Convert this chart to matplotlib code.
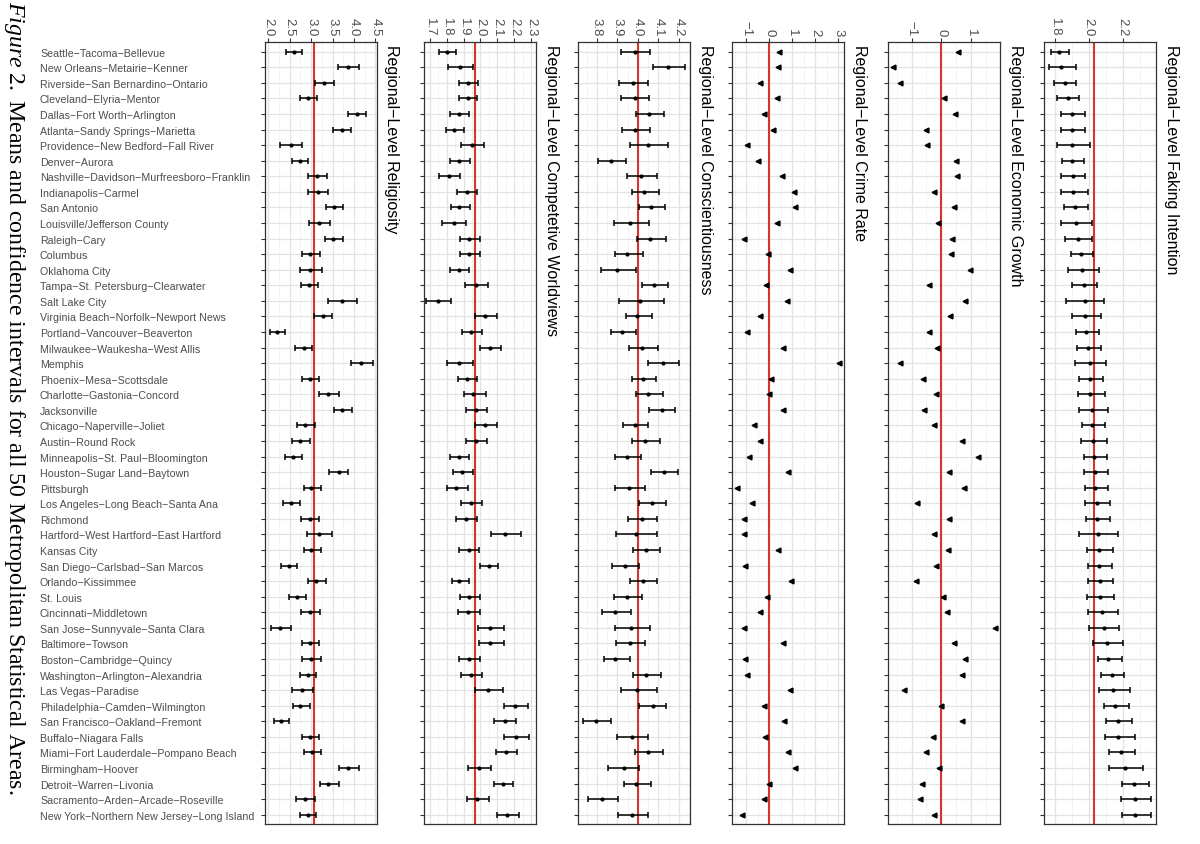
import matplotlib
matplotlib.use("Agg")
import matplotlib.pyplot as plt
from matplotlib.ticker import AutoMinorLocator

plt.rcParams['font.family'] = 'Liberation Sans'
plt.rcParams['mathtext.fontset'] = 'custom'
plt.rcParams['mathtext.it'] = 'Liberation Serif:italic'
plt.rcParams['mathtext.rm'] = 'Liberation Serif'

cities = [
    "Seattle−Tacoma−Bellevue", "New Orleans−Metairie−Kenner", "Riverside−San Bernardino−Ontario",
    "Cleveland−Elyria−Mentor", "Dallas−Fort Worth−Arlington", "Atlanta−Sandy Springs−Marietta",
    "Providence−New Bedford−Fall River", "Denver−Aurora", "Nashville−Davidson−Murfreesboro−Franklin",
    "Indianapolis−Carmel", "San Antonio", "Louisville/Jefferson County", "Raleigh−Cary", "Columbus",
    "Oklahoma City", "Tampa−St. Petersburg−Clearwater", "Salt Lake City",
    "Virginia Beach−Norfolk−Newport News", "Portland−Vancouver−Beaverton",
    "Milwaukee−Waukesha−West Allis", "Memphis", "Phoenix−Mesa−Scottsdale",
    "Charlotte−Gastonia−Concord", "Jacksonville", "Chicago−Naperville−Joliet", "Austin−Round Rock",
    "Minneapolis−St. Paul−Bloomington", "Houston−Sugar Land−Baytown", "Pittsburgh",
    "Los Angeles−Long Beach−Santa Ana", "Richmond", "Hartford−West Hartford−East Hartford",
    "Kansas City", "San Diego−Carlsbad−San Marcos", "Orlando−Kissimmee", "St. Louis",
    "Cincinnati−Middletown", "San Jose−Sunnyvale−Santa Clara", "Baltimore−Towson",
    "Boston−Cambridge−Quincy", "Washington−Arlington−Alexandria", "Las Vegas−Paradise",
    "Philadelphia−Camden−Wilmington", "San Francisco−Oakland−Fremont", "Buffalo−Niagara Falls",
    "Miami−Fort Lauderdale−Pompano Beach", "Birmingham−Hoover", "Detroit−Warren−Livonia",
    "Sacramento−Arden−Arcade−Roseville", "New York−Northern New Jersey−Long Island"]

# religiosity
rel_lo = [2.42, 3.62, 3.10, 2.75, 3.87, 3.52, 2.28, 2.56, 2.93, 2.93, 3.34, 2.95, 3.32, 2.79, 2.73, 2.77, 3.40,
          3.06, 2.04, 2.63, 3.93, 2.79, 3.19, 3.53, 2.68, 2.56, 2.39, 3.42, 2.83, 2.35, 2.77, 2.90, 2.83, 2.30,
          2.93, 2.48, 2.77, 2.06, 2.79, 2.79, 2.75, 2.56, 2.57, 2.14, 2.79, 2.83, 3.66, 3.20, 2.64, 2.75]
rel_mean = [2.59, 3.86, 3.31, 2.93, 4.07, 3.71, 2.53, 2.73, 3.14, 3.15, 3.54, 3.19, 3.52, 2.98, 2.98, 2.94, 3.71,
            3.27, 2.20, 2.83, 4.17, 2.97, 3.40, 3.73, 2.85, 2.75, 2.57, 3.64, 2.99, 2.53, 2.97, 3.18, 2.99, 2.47,
            3.11, 2.67, 2.97, 2.28, 2.97, 2.99, 2.93, 2.79, 2.75, 2.30, 2.97, 3.01, 3.86, 3.40, 2.85, 2.93]
rel_hi = [2.79, 4.13, 3.54, 3.14, 4.29, 3.93, 2.79, 2.93, 3.38, 3.40, 3.75, 3.45, 3.75, 3.20, 3.26, 3.15, 4.07,
          3.48, 2.39, 3.03, 4.45, 3.18, 3.64, 3.95, 3.08, 2.98, 2.79, 3.86, 3.22, 2.75, 3.19, 3.48, 3.22, 2.68,
          3.34, 2.89, 3.20, 2.53, 3.19, 3.22, 3.12, 3.05, 2.97, 2.48, 3.19, 3.22, 4.13, 3.65, 3.10, 3.12]

# competitive worldviews
cw_lo = [1.754, 1.811, 1.872, 1.872, 1.817, 1.794, 1.886, 1.821, 1.754, 1.863, 1.823, 1.772, 1.880, 1.882,
         1.817, 1.906, 1.680, 1.969, 1.890, 1.998, 1.802, 1.867, 1.900, 1.916, 1.969, 1.912, 1.817, 1.837,
         1.802, 1.886, 1.853, 2.063, 1.876, 1.995, 1.831, 1.880, 1.867, 1.985, 1.991, 1.876, 1.886, 1.969,
         2.138, 2.083, 2.142, 2.093, 1.926, 2.079, 1.922, 2.097]
cw_mean = [1.804, 1.880, 1.926, 1.926, 1.871, 1.841, 1.951, 1.876, 1.813, 1.920, 1.876, 1.841, 1.935, 1.935,
           1.871, 1.971, 1.748, 2.030, 1.945, 2.058, 1.876, 1.920, 1.959, 1.975, 2.030, 1.971, 1.871, 1.892,
           1.857, 1.945, 1.912, 2.148, 1.930, 2.048, 1.876, 1.935, 1.926, 2.058, 2.059, 1.930, 1.945, 2.044,
           2.207, 2.146, 2.211, 2.152, 1.991, 2.132, 1.981, 2.158]
cw_hi = [1.857, 1.955, 1.985, 1.981, 1.930, 1.900, 2.024, 1.941, 1.882, 1.981, 1.939, 1.916, 2.000, 1.995,
         1.930, 2.046, 1.827, 2.097, 2.010, 2.122, 1.955, 1.981, 2.034, 2.038, 2.097, 2.038, 1.930, 1.959,
         1.926, 2.010, 1.979, 2.241, 1.991, 2.107, 1.932, 2.000, 1.995, 2.138, 2.142, 1.995, 2.010, 2.132,
         2.280, 2.211, 2.286, 2.217, 2.063, 2.191, 2.048, 2.227]

# conscientiousness
con_lo = [3.919, 4.073, 3.906, 3.916, 3.989, 3.924, 3.960, 3.806, 3.948, 3.971, 4.005, 3.882, 3.995, 3.887,
          3.819, 4.021, 3.906, 3.944, 3.868, 3.956, 4.048, 3.971, 3.992, 4.056, 3.927, 3.971, 3.887, 4.065,
          3.887, 4.008, 3.952, 3.895, 3.976, 3.876, 3.960, 3.884, 3.826, 3.887, 3.892, 3.835, 3.979, 3.916,
          4.008, 3.734, 3.898, 3.987, 3.855, 3.932, 3.755, 3.903]
con_mean = [3.987, 4.148, 3.979, 3.984, 4.053, 3.987, 4.052, 3.871, 4.016, 4.032, 4.065, 3.963, 4.060, 3.948,
            3.900, 4.077, 4.013, 3.997, 3.924, 4.021, 4.121, 4.024, 4.052, 4.116, 3.984, 4.035, 3.947, 4.126,
            3.955, 4.069, 4.019, 3.989, 4.040, 3.939, 4.024, 3.947, 3.890, 3.968, 3.963, 3.890, 4.040, 3.995,
            4.073, 3.798, 3.973, 4.052, 3.931, 3.992, 3.823, 3.973]
con_hi = [4.061, 4.231, 4.052, 4.055, 4.126, 4.060, 4.148, 3.944, 4.092, 4.105, 4.134, 4.053, 4.137, 4.024,
          3.992, 4.148, 4.129, 4.069, 3.989, 4.097, 4.202, 4.089, 4.121, 4.182, 4.052, 4.110, 4.016, 4.197,
          4.037, 4.137, 4.092, 4.092, 4.110, 4.008, 4.094, 4.021, 3.968, 4.060, 4.037, 3.960, 4.113, 4.092,
          4.140, 3.871, 4.052, 4.121, 4.008, 4.065, 3.903, 4.052]

# crime rate and economic growth (standardised, no interval)
crime = [0.43, 0.40, -0.40, 0.32, -0.24, 0.17, -0.94, -0.47, 0.55, 1.08, 1.11, 0.33, -1.08, -0.07, 0.89, -0.12,
         0.79, -0.40, -0.98, 0.62, 3.02, 0.07, 0.01, 0.59, -0.65, -0.39, -0.86, 0.81, -1.40, -0.75, -1.11, -1.11,
         0.40, -1.05, 0.96, -0.10, -0.39, -1.11, 0.59, -1.04, -0.94, 0.88, -0.22, 0.65, -0.20, 0.82, 1.11, 0.01,
         -0.24, -1.19]
growth = [0.57, -1.63, -1.38, 0.09, 0.47, -0.53, -0.47, 0.51, 0.53, -0.24, 0.44, -0.11, 0.37, 0.33, 0.96, -0.42,
          0.82, 0.30, -0.42, -0.15, -1.38, -0.62, -0.18, -0.58, -0.26, 0.71, 1.25, 0.26, 0.76, -0.83, 0.25, -0.26,
          0.22, -0.19, -0.85, 0.06, 0.21, 1.82, 0.45, 0.79, 0.70, -1.27, 0.00, 0.69, -0.28, -0.52, -0.08, -0.65,
          -0.72, -0.26]

# faking intention
fak_lo = [1.780, 1.767, 1.794, 1.814, 1.835, 1.835, 1.814, 1.845, 1.835, 1.839, 1.853, 1.835, 1.864, 1.898,
          1.878, 1.903, 1.868, 1.901, 1.927, 1.930, 1.917, 1.942, 1.940, 1.942, 1.962, 1.956, 1.972, 1.972,
          1.976, 1.981, 1.985, 1.946, 1.989, 1.999, 1.999, 1.991, 1.999, 2.001, 2.028, 2.054, 2.073, 2.058,
          2.089, 2.102, 2.093, 2.118, 2.122, 2.196, 2.190, 2.196]
fak_mean = [1.825, 1.839, 1.859, 1.878, 1.901, 1.901, 1.903, 1.903, 1.907, 1.911, 1.917, 1.923, 1.937, 1.956,
            1.962, 1.970, 1.976, 1.981, 1.985, 1.995, 2.005, 2.009, 2.009, 2.020, 2.020, 2.028, 2.034, 2.038,
            2.038, 2.050, 2.050, 2.054, 2.058, 2.063, 2.067, 2.067, 2.079, 2.089, 2.108, 2.116, 2.138, 2.145,
            2.157, 2.171, 2.175, 2.190, 2.216, 2.268, 2.272, 2.274]
fak_hi = [1.884, 1.923, 1.927, 1.946, 1.976, 1.980, 2.005, 1.970, 1.981, 1.995, 1.999, 2.019, 2.019, 2.024,
          2.063, 2.048, 2.089, 2.073, 2.058, 2.073, 2.102, 2.087, 2.093, 2.112, 2.093, 2.108, 2.108, 2.112,
          2.112, 2.128, 2.126, 2.175, 2.141, 2.138, 2.141, 2.151, 2.175, 2.180, 2.200, 2.194, 2.210, 2.245,
          2.236, 2.253, 2.274, 2.274, 2.317, 2.356, 2.366, 2.366]

titles = ["Regional−Level Religiosity", "Regional−Level Competetive Worldviews",
          "Regional−Level Conscientiousness", "Regional−Level Crime Rate",
          "Regional−Level Economic Growth", "Regional−Level Faking Intention"]
ref_lines = [3.07, 1.965, 4.0, 0.0, 0.0, 2.034]
x_ticks = [[2.0, 2.5, 3.0, 3.5, 4.0, 4.5],
           [1.7, 1.8, 1.9, 2.0, 2.1, 2.2, 2.3],
           [3.8, 3.9, 4.0, 4.1, 4.2],
           [-1, 0, 1, 2, 3],
           [-1, 0, 1],
           [1.8, 2.0, 2.2]]
x_labels = [["2.0", "2.5", "3.0", "3.5", "4.0", "4.5"],
            ["1.7", "1.8", "1.9", "2.0", "2.1", "2.2", "2.3"],
            ["3.8", "3.9", "4.0", "4.1", "4.2"],
            ["−1", "0", "1", "2", "3"],
            ["−1", "0", "1"],
            ["1.8", "2.0", "2.2"]]
x_lims = [(1.92, 4.54), (1.666, 2.329), (3.708, 4.255), (-1.61, 3.24), (-1.80, 1.99), (1.738, 2.395)]

series = [(rel_lo, rel_mean, rel_hi), (cw_lo, cw_mean, cw_hi), (con_lo, con_mean, con_hi),
          crime, growth, (fak_lo, fak_mean, fak_hi)]

W, H = 1200, 845
fig = plt.figure(figsize=(12, 8.45), dpi=100)

# panel positions in pixels (left edge), rotated layout
lefts = [265, 424, 578, 732, 888, 1044]
pw = 112
top_px, bot_px = 43.4, 825
ypos = list(range(len(cities)))

for i in range(6):
    ax = fig.add_axes([lefts[i] / W, 1 - bot_px / H, pw / W, (bot_px - top_px) / H])
    ax.set_xlim(*x_lims[i])
    ax.set_ylim(len(cities) - 0.4, -0.6)
    ax.set_xticks(x_ticks[i])
    ax.set_xticklabels(x_labels[i], rotation=-90)
    ax.xaxis.set_minor_locator(AutoMinorLocator(2))
    ax.xaxis.tick_top()
    ax.set_yticks(ypos)
    ax.set_axisbelow(True)
    ax.grid(which='major', color='#e3e3e3', lw=0.9)
    ax.grid(which='minor', axis='x', color='#eeeeee', lw=0.5)
    ax.tick_params(which='minor', length=0)
    ax.tick_params(which='major', length=3, width=0.8, color='#333333',
                   labelcolor='#4d4d4d', labelsize=9.5, pad=2)
    for s in ax.spines.values():
        s.set_color('#333333')
        s.set_linewidth(0.9)

    if i == 0:
        ax.set_yticklabels(cities, ha='left')
        ax.tick_params(axis='y', pad=(lefts[0] - 40) * 0.72 - 3, labelsize=7.7)
    else:
        ax.set_yticklabels([])

    ax.axvline(ref_lines[i], color='#d8342c', lw=1.5, zorder=2)

    d = series[i]
    if isinstance(d, tuple):
        lo, mean, hi = d
        err = [[m - l for m, l in zip(mean, lo)], [h - m for h, m in zip(hi, mean)]]
        ax.errorbar(mean, ypos, xerr=err, fmt='o', ms=2, color='black',
                    elinewidth=1.1, capsize=2.4, capthick=1.1, zorder=3)
    else:
        ax.plot(d, ypos, marker='<', ls='none', ms=3.5, color='black', zorder=3)

    # panel title on the right, reading downward
    fig.text((lefts[i] + pw + 15) / W, 1 - 45 / H, titles[i], rotation=-90,
             rotation_mode='anchor', ha='left', va='center', fontsize=11.5)

fig.text(15 / W, 1 - 1 / H,
         r"$\mathit{Figure\ 2.}$ Means and confidence intervals for all 50 Metropolitan Statistical Areas.",
         rotation=-90, rotation_mode='anchor', ha='left', va='center',
         fontsize=17.2, family='Liberation Serif')

fig.savefig("out.png", dpi=100)
